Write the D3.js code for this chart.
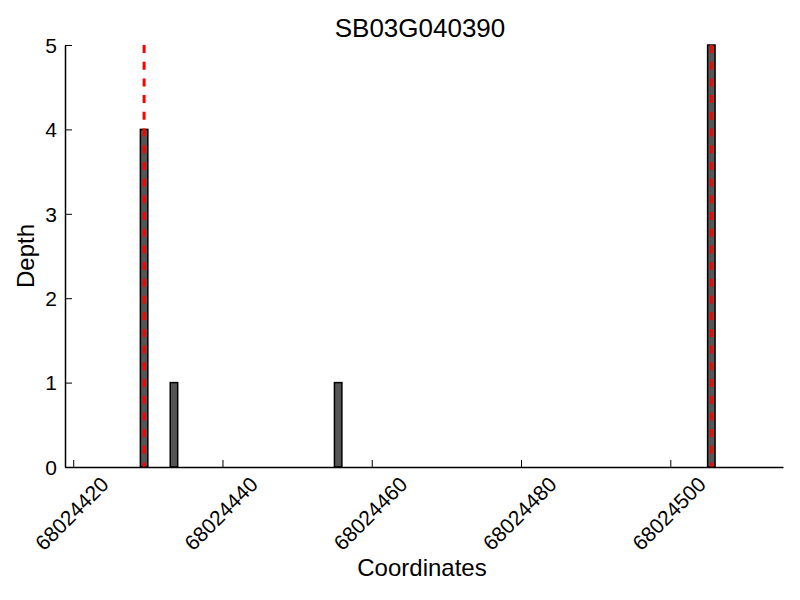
<!DOCTYPE html>
<html>
<head>
<meta charset="utf-8">
<script src="https://cdn.jsdelivr.net/npm/d3@7"></script>
<style>
  html, body { margin: 0; padding: 0; background: #fff; }
  svg { display: block; font-family: "Liberation Sans", Arial, Helvetica, sans-serif; }
</style>
</head>
<body>
<svg id="chart" width="800" height="600"></svg>
<script>
// ---- data ----
const title = "SB03G040390";
const barPositions = [68024429, 68024433, 68024455, 68024505];
const barDepths = [4, 1, 1, 5];
const markerPositions = [68024429.5, 68024505.5];
const xTicks = [68024420, 68024440, 68024460, 68024480, 68024500];
const yTicks = [0, 1, 2, 3, 4, 5];
const xDomain = [68024418.9, 68024515.1];
const yDomain = [0, 5];

// ---- layout ----
const svg = d3.select("#chart");
const plotLeft = 65, plotRight = 783, plotTop = 45, plotBottom = 467;
const tickFont = 21;

const x = d3.scaleLinear().domain(xDomain).range([plotLeft, plotRight]);
const y = d3.scaleLinear().domain(yDomain).range([plotBottom, plotTop]);

// bars
svg.append("g").selectAll("rect")
  .data(barPositions.map((p, i) => ({p, d: barDepths[i]})))
  .join("rect")
  .attr("x", d => x(d.p))
  .attr("width", d => x(d.p + 1) - x(d.p))
  .attr("y", d => y(d.d))
  .attr("height", d => y(0) - y(d.d))
  .attr("fill", "#555555")
  .attr("stroke", "#000")
  .attr("stroke-width", 1.5);

// red dashed markers
svg.append("g").selectAll("line")
  .data(markerPositions)
  .join("line")
  .attr("x1", d => x(d)).attr("x2", d => x(d))
  .attr("y1", y(5)).attr("y2", y(0))
  .attr("stroke", "#ff0000")
  .attr("stroke-width", 3)
  .attr("stroke-dasharray", "8,8.7");

// x axis (ticks inward)
const xAxis = d3.axisBottom(x).tickValues(xTicks).tickSizeInner(-7).tickSizeOuter(0)
  .tickFormat(d3.format("d"));
const gx = svg.append("g").attr("transform", `translate(0,${plotBottom})`).call(xAxis);
gx.select(".domain").attr("stroke", "#000").attr("stroke-width", 1.5);
gx.selectAll(".tick line").attr("stroke", "#000").attr("stroke-width", 1);
gx.selectAll(".tick text").each(function() {
  const t = d3.select(this);
  t.attr("font-size", tickFont).attr("fill", "#000").attr("font-family", "Liberation Sans, Arial, sans-serif")
   .attr("text-anchor", "end").attr("dy", null).attr("y", 0);
  const L = this.getComputedTextLength();
  const h = 0.716 * tickFont;
  const shift = 0.354 * (L + h) - 2;
  t.attr("transform", `translate(${shift},${8 + 0.707 * h}) rotate(-45)`);
});

// y axis (ticks inward)
const yAxis = d3.axisLeft(y).tickValues(yTicks).tickSizeInner(-7).tickSizeOuter(0)
  .tickFormat(d3.format("d"));
const gy = svg.append("g").attr("transform", `translate(${plotLeft},0)`).call(yAxis);
gy.select(".domain").attr("stroke", "#000").attr("stroke-width", 1.5);
gy.selectAll(".tick line").attr("stroke", "#000").attr("stroke-width", 1);
gy.selectAll(".tick text")
  .attr("font-size", tickFont).attr("fill", "#000")
  .attr("font-family", "Liberation Sans, Arial, sans-serif")
  .attr("x", -8).attr("dy", "0.35em");

// title
svg.append("text")
  .attr("x", 420).attr("y", 37)
  .attr("text-anchor", "middle")
  .attr("font-size", 26)
  .attr("fill", "#000")
  .text(title);

// x label
svg.append("text")
  .attr("x", 422).attr("y", 576)
  .attr("text-anchor", "middle")
  .attr("font-size", 24)
  .attr("fill", "#000")
  .text("Coordinates");

// y label
svg.append("text")
  .attr("transform", `translate(34,${(plotTop + plotBottom) / 2}) rotate(-90)`)
  .attr("text-anchor", "middle")
  .attr("font-size", 24)
  .attr("fill", "#000")
  .text("Depth");
</script>
</body>
</html>
